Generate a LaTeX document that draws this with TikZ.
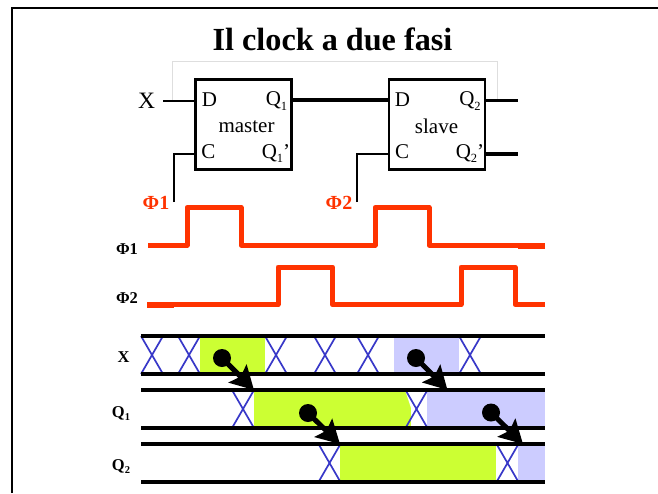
\documentclass[tikz,border=0pt]{standalone}
\usepackage{fontspec}
\setmainfont{Liberation Serif}
\usetikzlibrary{arrows.meta}
\definecolor{phasered}{HTML}{FF3300}
\definecolor{limefill}{HTML}{CCFF33}
\definecolor{bluefill}{HTML}{CCCCFF}
\definecolor{crossblue}{HTML}{3838C8}
\tikzset{
  ffbox/.style={draw=black,line width=2.2pt,fill=white,minimum width=96pt,minimum height=90pt,inner sep=0pt},
  lab/.style={inner sep=0pt,font=\fontsize{21}{21}\selectfont},
  rowlab/.style={inner sep=0pt,font=\bfseries\fontsize{16.5}{16.5}\selectfont},
  redlab/.style={inner sep=0pt,text=phasered,font=\bfseries\fontsize{20}{20}\selectfont},
  wave/.style={draw=phasered,line width=5pt,line join=round},
  rail/.style={draw=black,line width=3.2pt},
  xing/.style={draw=crossblue,line width=1.7pt},
  causal/.style={draw=black,line width=5pt,-{Stealth[length=23pt,width=25pt,inset=4pt]}},
  dotmark/.style={circle,fill=black,minimum size=18pt,inner sep=0pt},
  greenseg/.style={fill=limefill},
  blueseg/.style={fill=bluefill}
}
\newcommand{\xcross}[3]{\draw[xing] (#1,#2) -- (#1+22,#3) (#1+22,#2) -- (#1,#3);}
\newcommand{\qsub}[1]{Q\raisebox{-0.22em}{\fontsize{12.5}{12.5}\selectfont #1}}
\newcommand{\rsub}[1]{Q\raisebox{-0.22em}{\fontsize{10.5}{10.5}\selectfont #1}}
\begin{document}
\begin{tikzpicture}[x=1pt,y=-1pt]
\useasboundingbox (0,0) rectangle (658,493);
% frame
\draw[black,line width=2.4pt] (12,493) -- (12,8) -- (658,8);
\node[inner sep=0pt,font=\bfseries\fontsize{32.2}{32.2}\selectfont] (title) at (332.5,39.5) {Il clock a due fasi};
% feedback trace
\coordinate (fbL) at (172.5,100);
\coordinate (fbR) at (497.5,100);
\draw[draw=black!13,line width=0.8pt] (fbL) -- (172.5,61.5) -- (497.5,61.5) -- (fbR);
% flip-flops
\node[ffbox] (master) at (243.5,124.5) {};
\node[ffbox] (slave) at (437,124.5) {};
\coordinate (xin) at (163,100.5);
\coordinate (ck1) at (173.5,202);
\coordinate (ck2) at (356.5,202);
\coordinate (q2o) at (518,100.5);
\coordinate (q2n) at (518,154);
\draw[black,line width=2pt] (xin) -- (xin -| master.west);
\draw[black,line width=3.2pt] (292,100) -- (388,100);
\draw[black,line width=2pt] (ck1) |- (195,154);
\draw[black,line width=2pt] (ck2) |- (388,154);
\draw[black,line width=2.2pt] (486,100.5) -- (q2o);
\draw[black,line width=3.2pt] (486,154) -- (q2n);
\node[lab,font=\fontsize{23.5}{23.5}\selectfont] (xlab) at (146.5,101) {X};
\node[lab] (md) at (209.5,99.5) {D};
\node[lab] (mc) at (208.5,151.5) {C};
\node[lab] (mq) at (276.5,101) {\qsub{1}};
\node[lab] (mqn) at (276,153.5) {\qsub{1}’};
\node[lab] (mn) at (246.5,126.5) {master};
\node[lab] (sd) at (402.5,99.5) {D};
\node[lab] (sc) at (402,151.5) {C};
\node[lab] (sq) at (470,101) {\qsub{2}};
\node[lab] (sqn) at (470,153.5) {\qsub{2}’};
\node[lab] (sn) at (436.5,126.5) {slave};
\node[redlab] (r1) at (156,203) {Φ1};
\node[redlab] (r2) at (339,203) {Φ2};
% clocks
\draw[wave] (148,245) -- (187,245) -- (187,207.5) -- (241,207.5) -- (241,245) -- (375,245) -- (375,207.5) -- (429,207.5) -- (429,245) -- (518,245);
\draw[phasered,line width=5.5pt] (518,246) -- (545,246);
\draw[phasered,line width=6pt] (147,305) -- (174,305);
\draw[wave] (174,304.7) -- (278,304.7) -- (278,267) -- (332.5,267) -- (332.5,304.7) -- (461,304.7) -- (461,267) -- (515,267) -- (515,304.7) -- (545,304.7);
\node[rowlab] (p1) at (127,249) {Φ1};
\node[rowlab] (p2) at (127,298) {Φ2};
\node[rowlab] (rx) at (123.5,357) {X};
\node[rowlab] (rq1) at (121,413.5) {\rsub{1}};
\node[rowlab] (rq2) at (121,466.5) {\rsub{2}};
% fills
\fill[greenseg] (200,336) rectangle (265,374);
\fill[blueseg] (394,336) rectangle (459,374);
\fill[greenseg] (254,390) rectangle (411,428);
\fill[blueseg] (427,390) rectangle (545,428);
\fill[white] (411,390) -- (405,390) -- (411,408) -- cycle;
\fill[greenseg] (340,444) rectangle (496,482);
\fill[blueseg] (518,444) rectangle (545,482);
% transitions
\foreach \a in {141,178,265,314,357,459} {\xcross{\a}{336}{374}}
\foreach \a in {232,405.5} {\xcross{\a}{390}{428}}
\foreach \a in {318.5,496.5} {\xcross{\a}{444}{482}}
% rails
\foreach \y in {336,374,390,428,444,482} {\draw[rail] (141,\y) -- (545,\y);}
% causal arrows
\node[dotmark] (d1) at (222,358) {};
\node[dotmark] (d2) at (416,358) {};
\node[dotmark] (d3) at (308,413) {};
\node[dotmark] (d4) at (491,412.5) {};
\coordinate (t1) at (254,390);
\coordinate (t2) at (447.5,390);
\coordinate (t3) at (340,444);
\coordinate (t4) at (523,444);
\draw[causal] (d1.center) -- (t1);
\draw[causal] (d2.center) -- (t2);
\draw[causal] (d3.center) -- (t3);
\draw[causal] (d4.center) -- (t4);
\end{tikzpicture}
\end{document}
